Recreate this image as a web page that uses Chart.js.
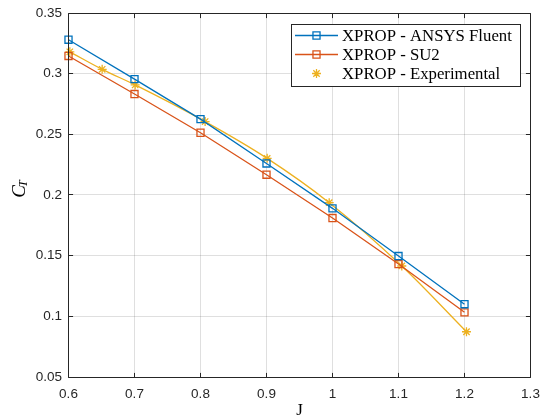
<!DOCTYPE html>
<html><head><meta charset="utf-8">
<script src="https://cdn.jsdelivr.net/npm/chart.js@4"></script>
<style>html,body{margin:0;padding:0;background:#fff}#wrap{width:540px;height:419px}</style>
</head><body><div id="wrap"><canvas id="c" width="540" height="419"></canvas></div>
<script>
const J = [0.6, 0.7, 0.8, 0.9, 1.0, 1.1, 1.2];
const ctFluent = [0.328, 0.2955, 0.2625, 0.226, 0.189, 0.1497, 0.110];
const ctSU2 = [0.3146, 0.2832, 0.2513, 0.2167, 0.181, 0.1431, 0.1033];
const Jexp = [0.602, 0.651, 0.701, 0.807, 0.901, 0.995, 1.105, 1.203];
const ctExp = [0.318, 0.3036, 0.2907, 0.2605, 0.2302, 0.1937, 0.1415, 0.0873];
const xTicks = [0.6, 0.7, 0.8, 0.9, 1, 1.1, 1.2, 1.3];
const yTicks = [0.05, 0.1, 0.15, 0.2, 0.25, 0.3, 0.35];
const seriesNames = ['XPROP - ANSYS Fluent', 'XPROP - SU2', 'XPROP - Experimental'];
const colors = ['#0072BD', '#D95319', '#EDB120'];

const toXY = (xs, ys) => xs.map((v, i) => ({x: v, y: ys[i]}));

function drawMarker(ctx, style, x, y, r, color) {
  ctx.save();
  ctx.strokeStyle = color; ctx.lineWidth = 1.3;
  ctx.beginPath();
  if (style === 'rect') {
    const s = r / Math.SQRT2;
    ctx.rect(x - s, y - s, 2 * s, 2 * s);
  } else {
    ctx.moveTo(x - r, y); ctx.lineTo(x + r, y);
    ctx.moveTo(x, y - r); ctx.lineTo(x, y + r);
    const d = r * Math.SQRT1_2;
    ctx.moveTo(x - d, y - d); ctx.lineTo(x + d, y + d);
    ctx.moveTo(x - d, y + d); ctx.lineTo(x + d, y - d);
  }
  ctx.stroke();
  ctx.restore();
}

const frame = {
  id: 'frame',
  afterDraw(chart) {
    const {ctx, chartArea: a, scales: {x, y}} = chart;
    const snap = v => Math.round(v - 0.5) + 0.5;
    const L = snap(a.left), R = snap(a.right), T = snap(a.top), B = snap(a.bottom);
    ctx.save();
    ctx.strokeStyle = '#262626'; ctx.lineWidth = 1;
    ctx.beginPath();
    ctx.rect(L, T, R - L, B - T);
    const tl = 4.6;
    xTicks.forEach(v => {
      const px = snap(x.getPixelForValue(v));
      ctx.moveTo(px, B); ctx.lineTo(px, B - tl);
      ctx.moveTo(px, T); ctx.lineTo(px, T + tl);
    });
    yTicks.forEach(v => {
      const py = snap(y.getPixelForValue(v));
      ctx.moveTo(L, py); ctx.lineTo(L + tl, py);
      ctx.moveTo(R, py); ctx.lineTo(R - tl, py);
    });
    ctx.stroke();

    // legend
    const bx = 291.5, by = 24.5, bw = 229, bh = 62;
    ctx.fillStyle = '#fff';
    ctx.fillRect(bx, by, bw, bh);
    ctx.strokeStyle = '#262626'; ctx.lineWidth = 1;
    ctx.strokeRect(bx, by, bw, bh);
    ctx.font = '13px "Liberation Serif"';
    const w13 = ctx.measureText(seriesNames[0]).width;
    const fs = 13 * 170 / w13;
    ctx.font = fs.toFixed(2) + 'px "Liberation Serif"';
    ctx.textBaseline = 'middle'; ctx.textAlign = 'left';
    const rows = [35.5, 54.5, 73.5];
    const styles = ['rect', 'rect', 'star'];
    rows.forEach((ry, i) => {
      if (i < 2) {
        ctx.strokeStyle = colors[i]; ctx.lineWidth = 1.3;
        ctx.beginPath(); ctx.moveTo(295, ry); ctx.lineTo(338, ry); ctx.stroke();
      }
      drawMarker(ctx, styles[i], 316.5, ry, i < 2 ? 5 : 4.5, colors[i]);
      ctx.fillStyle = '#000';
      ctx.fillText(seriesNames[i], 342, ry + 1);
    });

    // axis titles
    ctx.fillStyle = '#000';
    ctx.textAlign = 'center'; ctx.textBaseline = 'middle';
    ctx.font = '17px "Liberation Serif"';
    ctx.fillText('J', (a.left + a.right) / 2, 411);
    ctx.save();
    ctx.translate(19, 189);
    ctx.rotate(-Math.PI / 2);
    ctx.textAlign = 'left'; ctx.textBaseline = 'alphabetic';
    ctx.font = 'italic 19px "Liberation Serif"';
    const cw = ctx.measureText('C').width;
    ctx.font = 'italic 12.5px "Liberation Serif"';
    const tw = ctx.measureText('T').width;
    const start = -(cw + tw - 2) / 2;
    ctx.font = 'italic 19px "Liberation Serif"';
    ctx.fillText('C', start, 6);
    ctx.font = 'italic 12.5px "Liberation Serif"';
    ctx.fillText('T', start + cw - 2, 8);
    ctx.restore();
    ctx.restore();
  }
};

new Chart(document.getElementById('c'), {
  type: 'line',
  data: {
    datasets: [
      {label: seriesNames[0], data: toXY(J, ctFluent), borderColor: colors[0], backgroundColor: 'transparent',
       borderWidth: 1.3, pointStyle: 'rect', pointRadius: 5, pointBorderWidth: 1.3, pointBorderColor: colors[0],
       pointBackgroundColor: 'transparent', tension: 0, clip: false},
      {label: seriesNames[1], data: toXY(J, ctSU2), borderColor: colors[1], backgroundColor: 'transparent',
       borderWidth: 1.3, pointStyle: 'rect', pointRadius: 5, pointBorderWidth: 1.3, pointBorderColor: colors[1],
       pointBackgroundColor: 'transparent', tension: 0, clip: false},
      {label: seriesNames[2], data: toXY(Jexp, ctExp), borderColor: colors[2], backgroundColor: 'transparent',
       borderWidth: 1.3, pointStyle: 'star', pointRadius: 4.5, pointBorderWidth: 1.3, pointBorderColor: colors[2],
       pointBackgroundColor: colors[2], cubicInterpolationMode: 'monotone', clip: false}
    ]
  },
  options: {
    responsive: false, animation: false, devicePixelRatio: 1,
    layout: {padding: {left: 0, right: 9.5, top: 13, bottom: 0}},
    plugins: {legend: {display: false}, tooltip: {enabled: false}},
    elements: {point: {hoverRadius: 5}},
    scales: {
      x: {
        type: 'linear', min: 0.6, max: 1.3,
        afterBuildTicks: s => { s.ticks = xTicks.map(v => ({value: v})); },
        afterFit: s => { s.height = 42; s.paddingLeft = 0; s.paddingRight = 0; },
        grid: {color: 'rgba(38,38,38,0.15)', lineWidth: 1, drawTicks: false},
        border: {display: false},
        ticks: {padding: 9, color: '#262626', font: {family: '"Liberation Sans"', size: 13.5},
                callback: (v, i) => String(xTicks[i]), maxRotation: 0, autoSkip: false}
      },
      y: {
        type: 'linear', min: 0.05, max: 0.35,
        afterBuildTicks: s => { s.ticks = yTicks.map(v => ({value: v})); },
        afterFit: s => { s.width = 68.5; s.paddingTop = 0; s.paddingBottom = 0; },
        grid: {color: 'rgba(38,38,38,0.15)', lineWidth: 1, drawTicks: false},
        border: {display: false},
        ticks: {padding: 6.5, color: '#262626', font: {family: '"Liberation Sans"', size: 13.5},
                callback: (v, i) => String(yTicks[i]), autoSkip: false}
      }
    }
  },
  plugins: [frame]
});
</script>
</body></html>
